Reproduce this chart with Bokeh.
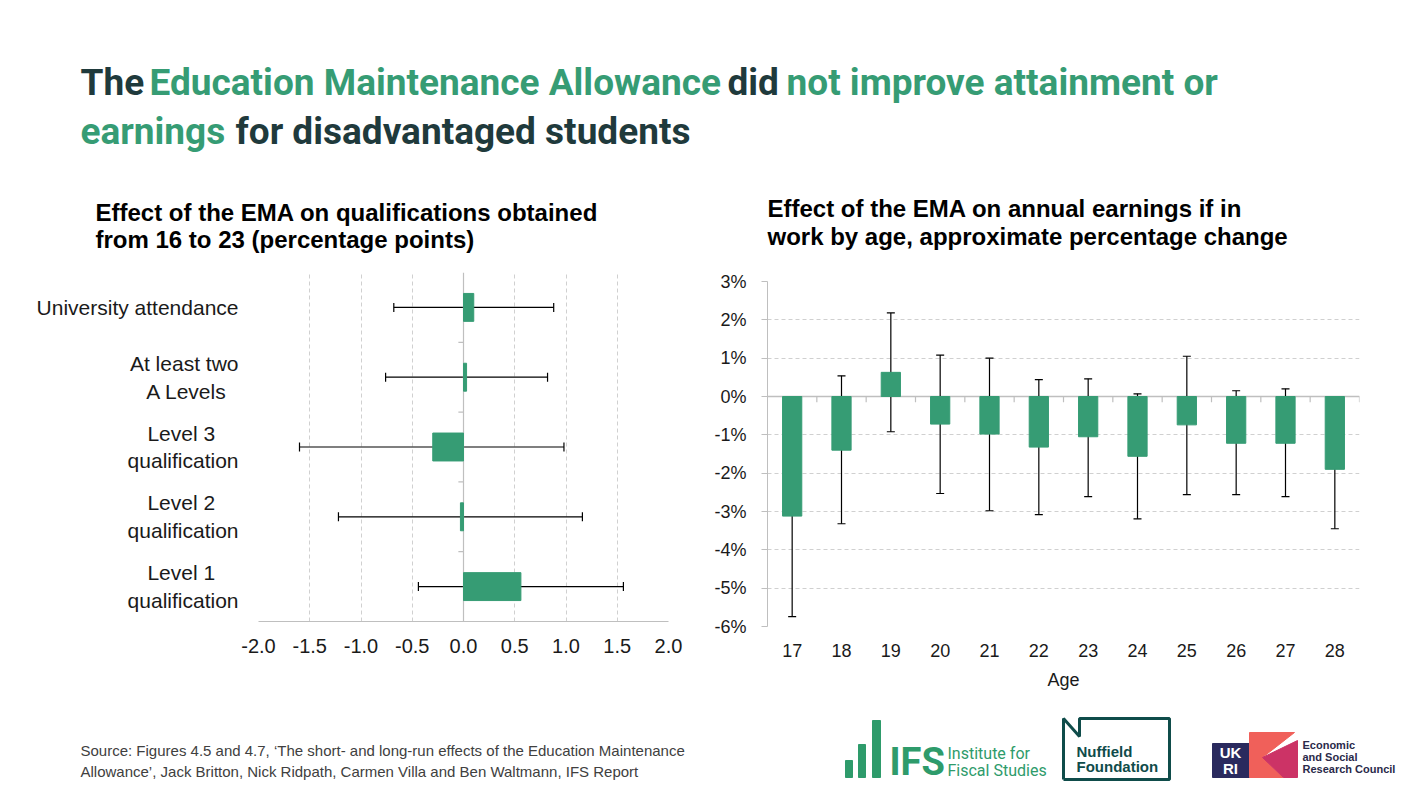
from bokeh.plotting import figure
from bokeh.models import (ColumnDataSource, Range1d, FactorRange, Whisker, TeeHead,
                          Span, FixedTicker, PrintfTickFormatter, Spacer)
from bokeh.layouts import column, row
from bokeh.core.properties import value
from bokeh.embed import file_html
from bokeh.resources import INLINE

# ---------------- data ----------------
NB = "\u00a0"
qual_categories = ["University attendance", "At least two\nA Levels" + NB * 2,
                   "Level 3" + NB * 4 + "\nqualification", "Level 2" + NB * 4 + "\nqualification",
                   "Level 1" + NB * 4 + "\nqualification"]
qual_effect = [0.10, 0.03, -0.30, -0.03, 0.56]
qual_low = [-0.68, -0.76, -1.60, -1.22, -0.44]
qual_high = [0.88, 0.82, 0.98, 1.16, 1.56]
qual_ticks = [-2.0, -1.5, -1.0, -0.5, 0.0, 0.5, 1.0, 1.5, 2.0]

ages = ["17", "18", "19", "20", "21", "22", "23", "24", "25", "26", "27", "28"]
earn_effect = [-3.12, -1.40, 0.63, -0.72, -0.98, -1.32, -1.05, -1.56, -0.74, -1.22, -1.22, -1.90]
earn_low = [-5.74, -3.32, -0.92, -2.53, -2.98, -3.08, -2.61, -3.19, -2.56, -2.56, -2.61, -3.45]
earn_high = [-0.48, 0.54, 2.18, 1.08, 1.00, 0.44, 0.46, 0.07, 1.05, 0.15, 0.20, -0.35]
earn_ticks = [-6, -5, -4, -3, -2, -1, 0, 1, 2, 3]

title_parts = ["The", "Education Maintenance Allowance", "did", "not improve attainment or",
               "earnings", "for disadvantaged students"]
title_green = [False, True, False, True, True, False]
left_title = ["Effect of the EMA on qualifications obtained", "from 16 to 23 (percentage points)"]
right_title = ["Effect of the EMA on annual earnings if in", "work by age, approximate percentage change"]
source_lines = ["Source: Figures 4.5 and 4.7, \u2018The short- and long-run effects of the Education Maintenance",
                "Allowance\u2019, Jack Britton, Nick Ridpath, Carmen Villa and Ben Waltmann, IFS Report"]

GREEN = "#369C74"
DARK = "#1F3A3C"
GRID = "#d0d0d0"
AXIS = "#bfbfbf"
TXT = "#1a1a1a"
ARIAL = value("Liberation Sans")
ROBOTO = value("Roboto")
W = 1416


def blank(w, h, x0, x1, y0, y1):
    p = figure(width=w, height=h, x_range=Range1d(x0, x1), y_range=Range1d(y0, y1),
               x_axis_type=None, y_axis_type=None, toolbar_location=None,
               output_backend="svg", min_border=0, outline_line_color=None)
    p.grid.visible = False
    return p


# ---------------- header ----------------
head = blank(W, 258, 0, W, 258, 0)
title_x = [80, 149, 727, 786, 80, 235]
title_y = [82, 82, 82, 82, 131, 131]
head.text(x=title_x, y=title_y, text=title_parts,
          text_color=[GREEN if g else DARK for g in title_green],
          text_font=ROBOTO, text_font_size="37px", text_font_style="bold",
          text_baseline="middle", text_align="left")
head.text(x=[95, 95], y=[212, 239], text=left_title, text_font=ARIAL, text_font_size="24px",
          text_font_style="bold", text_color="#000000", text_baseline="middle")
head.text(x=[767, 767], y=[208, 236], text=right_title, text_font=ARIAL, text_font_size="24px",
          text_font_style="bold", text_color="#000000", text_baseline="middle")

# ---------------- left chart ----------------
qsrc = ColumnDataSource(dict(cat=qual_categories, eff=qual_effect, lo=qual_low, hi=qual_high))
left = figure(frame_width=410, frame_height=349,
              y_range=FactorRange(factors=list(reversed(qual_categories))),
              x_range=Range1d(-2, 2), toolbar_location=None, output_backend="svg",
              min_border_left=258, min_border_right=40, min_border_top=14, min_border_bottom=79,
              outline_line_color=None)
left.hbar(y="cat", left=0, right="eff", height=0.4, source=qsrc, color=GREEN)
left.add_layout(Whisker(base="cat", lower="lo", upper="hi", dimension="width", source=qsrc,
                        line_color="black", line_width=1.2,
                        upper_head=TeeHead(size=9, line_color="black", line_width=1.2),
                        lower_head=TeeHead(size=9, line_color="black", line_width=1.2)))
left.add_layout(Span(location=0, dimension="height", line_color=AXIS, line_width=1.2, level="underlay"))
# small category-separator ticks on the zero axis
qb = [(c, 0.5) for c in qual_categories[1:]]
left.segment(x0=[0] * len(qb), x1=[-0.05] * len(qb), y0=qb, y1=qb, line_color=AXIS, line_width=1.2)
left.xaxis.ticker = FixedTicker(ticks=qual_ticks)
left.xaxis.formatter = PrintfTickFormatter(format="%.1f")
left.xaxis.axis_line_color = AXIS
left.xaxis.major_tick_line_color = None
left.xaxis.minor_tick_line_color = None
left.xaxis.major_label_text_font = "Liberation Sans"
left.xaxis.major_label_text_font_size = "20px"
left.xaxis.major_label_text_color = TXT
left.xaxis.major_label_standoff = 11
left.yaxis.axis_line_color = None
left.yaxis.major_tick_line_color = None
left.yaxis.major_label_text_font = "Liberation Sans"
left.yaxis.major_label_text_font_size = "21px"
left.yaxis.major_label_text_color = TXT
left.yaxis.major_label_standoff = 14
left.xgrid.grid_line_color = GRID
left.xgrid.grid_line_dash = "4 3"
left.ygrid.grid_line_color = None

# ---------------- right chart ----------------
esrc = ColumnDataSource(dict(age=ages, eff=earn_effect, lo=earn_low, hi=earn_high))
right = figure(frame_width=592, frame_height=345, x_range=FactorRange(factors=ages),
               y_range=Range1d(-6, 3), toolbar_location=None, output_backend="svg",
               min_border_left=59, min_border_right=57, min_border_top=14, min_border_bottom=74,
               outline_line_color=None)
right.vbar(x="age", top="eff", bottom=0, width=0.39, source=esrc, color=GREEN)
right.add_layout(Span(location=0, dimension="width", line_color=AXIS, line_width=1.5, level="underlay"))
eb = [(a, 0.5) for a in ages]
right.segment(x0=eb, x1=eb, y0=[0] * len(eb), y1=[-0.15] * len(eb), line_color=AXIS, line_width=1.2)
right.add_layout(Whisker(base="age", lower="lo", upper="hi", source=esrc,
                         line_color="black", line_width=1.2,
                         upper_head=TeeHead(size=8, line_color="black", line_width=1.2),
                         lower_head=TeeHead(size=8, line_color="black", line_width=1.2)))
right.yaxis.ticker = FixedTicker(ticks=earn_ticks)
right.yaxis.formatter = PrintfTickFormatter(format="%d%%")
right.yaxis.axis_line_color = AXIS
right.yaxis.major_tick_line_color = AXIS
right.yaxis.major_tick_out = 6
right.yaxis.major_tick_in = 0
right.yaxis.minor_tick_line_color = None
right.yaxis.major_label_text_font = "Liberation Sans"
right.yaxis.major_label_text_font_size = "18px"
right.yaxis.major_label_text_color = TXT
right.yaxis.major_label_standoff = 15
right.xaxis.axis_line_color = None
right.xaxis.major_tick_line_color = None
right.xaxis.major_label_text_font = "Liberation Sans"
right.xaxis.major_label_text_font_size = "18px"
right.xaxis.major_label_text_color = TXT
right.xaxis.major_label_standoff = 11
right.xaxis.axis_label = "Age"
right.xaxis.axis_label_text_font = "Liberation Sans"
right.xaxis.axis_label_text_font_size = "18px"
right.xaxis.axis_label_text_font_style = "normal"
right.xaxis.axis_label_text_color = TXT
right.xaxis.axis_label_standoff = 10
right.ygrid.grid_line_color = GRID
right.ygrid.grid_line_dash = "4 3"
right.xgrid.grid_line_color = None

# ---------------- footer ----------------
foot = blank(W, 95, 0, W, 795, 700)
foot.text(x=[80, 80], y=[750, 771], text=source_lines, text_font=ARIAL, text_font_size="15px",
          text_color="#404040", text_baseline="middle")
# IFS logo
IFS_GREEN = "#2E9B6B"
foot.quad(left=[845, 858, 872], right=[852, 865, 880], top=[760, 744, 720], bottom=[777, 777, 777],
          color=IFS_GREEN)
foot.text(x=[889], y=[761], text=["IFS"], text_font=ROBOTO, text_font_size="38px",
          text_font_style="bold", text_color=IFS_GREEN, text_baseline="middle")
foot.text(x=[947, 947], y=[753, 770], text=["Institute for", "Fiscal Studies"], text_font=ROBOTO,
          text_font_size="16px", text_color=IFS_GREEN, text_baseline="middle")
# Nuffield logo
NUF = "#0F4C4A"
foot.line(x=[1063, 1063, 1079, 1079, 1169, 1169, 1063], y=[779, 718, 736, 718, 718, 779, 779],
          line_color=NUF, line_width=3)
foot.text(x=[1076, 1076], y=[751, 766], text=["Nuffield", "Foundation"], text_font=ARIAL,
          text_font_size="15px", text_font_style="bold", text_color=NUF, text_baseline="middle")
# UKRI logo
foot.quad(left=[1212], right=[1249], top=[743], bottom=[777], color="#2A2A5E")
foot.text(x=[1230, 1230], y=[752, 768], text=["UK", "RI"], text_font=ARIAL, text_font_size="15px",
          text_font_style="bold", text_color="white", text_baseline="middle", text_align="center")
foot.patch(x=[1249, 1294, 1262, 1283, 1249], y=[732, 732, 757, 777, 777], color="#F0605A")
foot.patch(x=[1297, 1297, 1283, 1262], y=[740, 777, 777, 757], color="#CC3366")
foot.text(x=[1302, 1302, 1302], y=[744, 756, 768], text=["Economic", "and Social", "Research Council"],
          text_font=ARIAL, text_font_size="11px", text_font_style="bold", text_color="#2A2A4A",
          text_baseline="middle")

layout = column(head, row(left, column(Spacer(width=708, height=9), right)), foot)
open("out.html", "w").write(file_html(layout, INLINE))
